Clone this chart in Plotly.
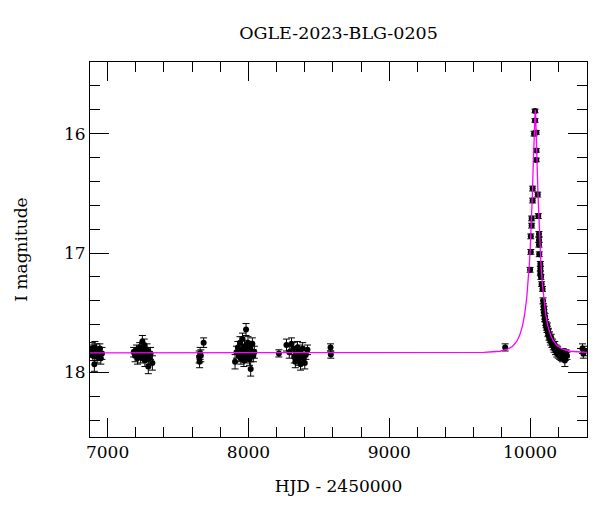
import plotly.graph_objects as go

# ---- photometry (HJD - 2450000, I mag, error) ----
hjd = [6884, 6890, 6895, 6900, 6906, 6910, 6915, 6920, 6926, 6932, 6938, 6945, 6952, 6960,
       7185, 7195, 7205, 7212, 7220, 7228, 7235, 7240, 7247, 7252, 7256, 7260, 7265, 7270,
       7275, 7280, 7289, 7295, 7305, 7318,
       7650, 7653, 7657, 7662, 7682,
       7905, 7915, 7925, 7932, 7940, 7946, 7952, 7958, 7963, 7968, 7972, 7978, 7983, 7988,
       7992, 7997, 8002, 8008, 8012, 8016, 8022, 8028, 8035, 8042,
       8216,
       8270, 8290, 8306, 8318, 8325, 8333, 8340, 8348, 8355, 8362, 8370, 8378, 8385, 8392,
       8400, 8408, 8419,
       8583, 8585,
       9823,
       10000, 10005, 10005, 10011, 10011, 10018, 10018, 10028, 10035, 10035,
       10044, 10044, 10044, 10054, 10058, 10063, 10063, 10063, 10065, 10073, 10073, 10073,
       10077, 10082, 10088, 10092, 10095, 10098, 10100, 10103, 10106, 10110, 10113, 10116,
       10120, 10123, 10127, 10130, 10134, 10138, 10142, 10146, 10150, 10155, 10160, 10165,
       10170, 10175, 10180, 10185, 10190, 10195, 10200, 10205, 10210, 10215, 10220, 10225,
       10230, 10235, 10240, 10247, 10250, 10255, 10262,
       10372, 10378, 10385]
mag = [17.83, 17.80, 17.86, 17.82, 17.93, 17.79, 17.84, 17.81, 17.87, 17.83, 17.85, 17.80, 17.88, 17.84,
       17.83, 17.86, 17.81, 17.88, 17.84, 17.79, 17.87, 17.82, 17.74, 17.80, 17.85, 17.77, 17.90, 17.83,
       17.86, 17.81, 17.95, 17.88, 17.84, 17.92,
       17.87, 17.91, 17.84, 17.86, 17.75,
       17.91, 17.83, 17.79, 17.86, 17.75, 17.88, 17.81, 17.72, 17.85, 17.90, 17.78, 17.83, 17.64, 17.87,
       17.80, 17.75, 17.85, 17.89, 17.79, 17.97, 17.82, 17.76, 17.86, 17.83,
       17.84,
       17.77, 17.83, 17.76, 17.80, 17.87, 17.91, 17.84, 17.79, 17.89, 17.82, 17.93, 17.86, 17.80, 17.88,
       17.92, 17.85, 17.81,
       17.79, 17.85,
       17.79,
       17.14, 16.99, 16.86, 16.77, 16.71, 16.56, 16.46, 16.00, 15.89, 15.81,
       15.99, 16.14, 16.22, 16.51, 16.69, 16.84, 16.89, 16.93, 17.01, 17.09, 17.13, 17.17,
       17.20, 17.26, 17.30, 17.40, 17.45, 17.50, 17.47, 17.55, 17.53, 17.58, 17.60, 17.62,
       17.64, 17.61, 17.67, 17.66, 17.70, 17.69, 17.72, 17.74, 17.71, 17.76, 17.75, 17.78,
       17.80, 17.77, 17.82, 17.80, 17.84, 17.81, 17.85, 17.83, 17.86, 17.84, 17.87, 17.85,
       17.88, 17.83, 17.86, 17.90, 17.87, 17.84, 17.86,
       17.80, 17.84, 17.82]
err = [0.04, 0.05, 0.04, 0.05, 0.06, 0.05, 0.04, 0.05, 0.05, 0.04, 0.05, 0.04, 0.05, 0.05,
       0.04, 0.05, 0.04, 0.05, 0.05, 0.04, 0.05, 0.05, 0.05, 0.04, 0.05, 0.05, 0.05, 0.04,
       0.05, 0.05, 0.06, 0.05, 0.05, 0.06,
       0.05, 0.05, 0.05, 0.05, 0.04,
       0.06, 0.05, 0.05, 0.05, 0.05, 0.05, 0.04, 0.05, 0.05, 0.05, 0.05, 0.04, 0.05, 0.05,
       0.05, 0.05, 0.04, 0.05, 0.05, 0.06, 0.05, 0.05, 0.05, 0.05,
       0.03,
       0.05, 0.05, 0.05, 0.05, 0.05, 0.05, 0.05, 0.05, 0.05, 0.05, 0.05, 0.05, 0.05, 0.05,
       0.05, 0.04, 0.04,
       0.03, 0.03,
       0.03,
       0.02, 0.02, 0.02, 0.02, 0.02, 0.02, 0.02, 0.02, 0.015, 0.015,
       0.015, 0.015, 0.015, 0.02, 0.02, 0.02, 0.02, 0.02, 0.02, 0.02, 0.02, 0.02,
       0.02, 0.02, 0.02, 0.025, 0.025, 0.025, 0.025, 0.025, 0.025, 0.025, 0.025, 0.025,
       0.025, 0.025, 0.03, 0.03, 0.03, 0.03, 0.03, 0.03, 0.03, 0.03, 0.03, 0.03,
       0.03, 0.03, 0.03, 0.03, 0.03, 0.03, 0.03, 0.03, 0.03, 0.03, 0.03, 0.03,
       0.03, 0.03, 0.03, 0.05, 0.03, 0.03, 0.03,
       0.04, 0.04, 0.04]

# ---- microlensing model curve ----
model_t = [6875, 8000, 9000, 9536, 9672, 9736, 9786, 9836, 9876, 9906, 9926, 9946, 9961,
           9976, 9986, 9996, 10001, 10006, 10011, 10016, 10021, 10024, 10027, 10030, 10033,
           10036,
           10039, 10042, 10045, 10048, 10051, 10056, 10061, 10066, 10071, 10076, 10086,
           10096, 10111, 10126, 10146, 10166, 10196, 10236, 10286, 10336, 10404]
model_m = [17.835, 17.835, 17.835, 17.834, 17.831, 17.826, 17.822, 17.807, 17.780, 17.738,
           17.689, 17.609, 17.515, 17.376, 17.245, 17.070, 16.961, 16.834, 16.685, 16.510,
           16.309, 16.177, 16.045, 15.924, 15.834,
           15.801,
           15.834, 15.924, 16.045, 16.177, 16.309, 16.510, 16.685, 16.834, 16.961, 17.070,
           17.245, 17.376, 17.515, 17.609, 17.689, 17.738, 17.780, 17.807, 17.822, 17.826, 17.831]

x_tickvals = [7000, 8000, 9000, 10000]
x_ticktext = ["7000", "8000", "9000", "10000"]
y_tickvals = [16, 17, 18]
y_ticktext = ["16", "17", "18"]

FONT = "DejaVu Serif"

fig = go.Figure()
fig.add_trace(go.Scatter(
    x=hjd, y=mag, mode="markers",
    marker=dict(color="black", size=6),
    error_y=dict(type="data", array=err, visible=True, color="black",
                 thickness=1, width=3.5),
    hoverinfo="x+y",
))
fig.add_trace(go.Scatter(
    x=model_t, y=model_m, mode="lines",
    line=dict(color="#ff00ff", width=1.3),
    hoverinfo="skip",
))

axis_common = dict(
    showline=True, linecolor="black", linewidth=1, mirror="allticks",
    ticks="inside", ticklen=19, tickwidth=1, tickcolor="black",
    showgrid=False, zeroline=False,
    tickfont=dict(family=FONT, size=17, color="black"),
)

# the page body adds an 8px offset, so margins are shifted accordingly
fig.update_layout(
    width=600, height=512,
    margin=dict(l=79, r=21, t=54, b=83),
    paper_bgcolor="white", plot_bgcolor="white",
    showlegend=False,
    title=dict(text="OGLE-2023-BLG-0205", x=0.5, xref="paper", xanchor="center",
               y=1 - 25 / 512, yref="container", yanchor="middle",
               font=dict(family=FONT, size=17.5, color="black")),
    xaxis=dict(
        range=[6875, 10404],
        tickvals=x_tickvals, ticktext=x_ticktext,
        minor=dict(ticks="inside", ticklen=10, tickwidth=1, tickcolor="black",
                   dtick=200, tick0=0, showgrid=False),
        title=dict(text="HJD - 2450000", font=dict(family=FONT, size=17, color="black"),
                   standoff=18),
        **axis_common,
    ),
    yaxis=dict(
        range=[18.54, 15.40],
        tickvals=y_tickvals, ticktext=y_ticktext,
        minor=dict(ticks="inside", ticklen=10, tickwidth=1, tickcolor="black",
                   dtick=0.2, tick0=0, showgrid=False),
        title=dict(text="I magnitude", font=dict(family=FONT, size=17, color="black"),
                   standoff=32),
        **axis_common,
    ),
)

fig.write_html("out.html")
